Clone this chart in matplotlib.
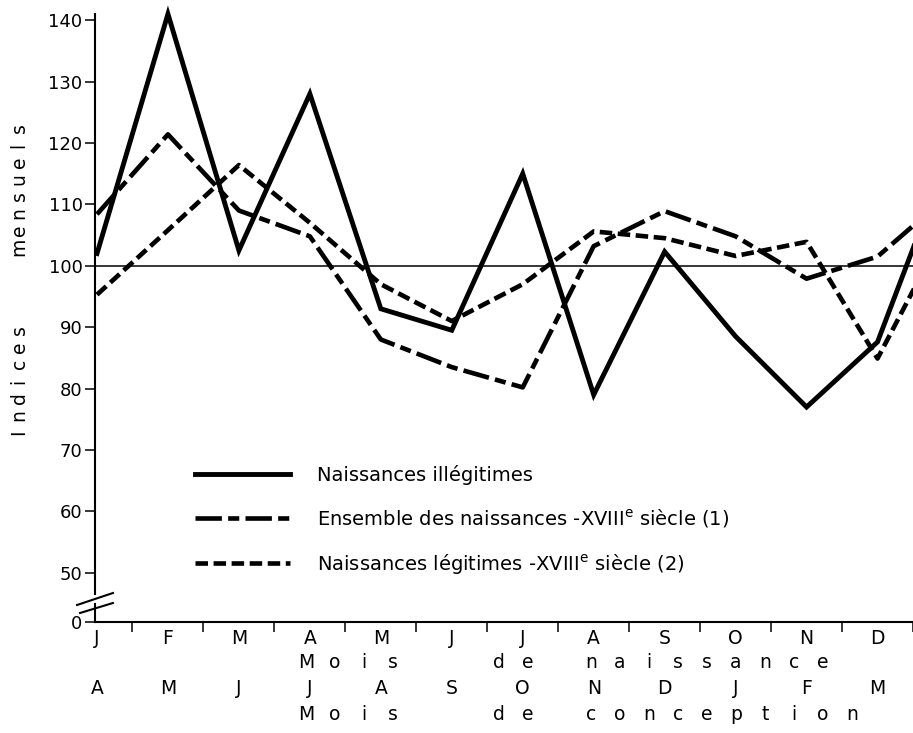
import matplotlib
matplotlib.use('Agg')
import matplotlib.pyplot as plt
import matplotlib.transforms as mtransforms
from matplotlib.lines import Line2D

plt.rcParams['font.family'] = ['DejaVu Sans']
plt.rcParams['mathtext.fontset'] = 'dejavusans'
plt.rcParams['lines.scale_dashes'] = False

# ---------------- data ----------------
birth_months = ['J', 'F', 'M', 'A', 'M', 'J', 'J', 'A', 'S', 'O', 'N', 'D']
conception_months = ['A', 'M', 'J', 'J', 'A', 'S', 'O', 'N', 'D', 'J', 'F', 'M']
# 13th value = continuation past the cropped right edge
illegitimes = [102, 141, 102.5, 128, 93, 89.5, 115, 79, 102.3, 88.5, 77, 87.6, 118]
ensemble = [108.4, 121.4, 109, 104.8, 88, 83.5, 80.2, 103.2, 108.9, 104.8, 97.9, 101.5, 111.5]
legitimes = [95.3, 105.8, 116.4, 107, 97, 91, 97, 105.6, 104.5, 101.6, 103.9, 84.9, 107]
ytick_values = [50, 60, 70, 80, 90, 100, 110, 120, 130, 140]
ytick_labels = ['50', '60', '70', '80', '90', '100', '110', '120', '130', '140']
zero_label = '0'
reference = 100
labels = ['Naissances illégitimes',
          r'Ensemble des naissances -XVIII$^{\mathrm{e}}$ siècle (1)',
          r'Naissances légitimes -XVIII$^{\mathrm{e}}$ siècle (2)']
ylabel_words = ['Indices', 'mensuels']
xlabel1_words = ['Mois', 'de', 'naissance']
xlabel2_words = ['Mois', 'de', 'conception']

FS = 13.5
W, H = 913, 733
fig = plt.figure(figsize=(W / 100, H / 100), dpi=100)
ax_left, ax_right, ax_top, ax_bottom = 95, 913, 14, 622
ax = fig.add_axes([ax_left / W, 1 - ax_bottom / H, (ax_right - ax_left) / W, (ax_bottom - ax_top) / H])

y_low, y_high = 42.0, 141.0
x0_px, step_px = 97, 71.2
ax.set_xlim((ax_left - x0_px) / step_px, (ax_right - x0_px) / step_px)
ax.set_ylim(y_low, y_high)

x = list(range(len(illegitimes)))
lw = 3.5
ax.plot(x, illegitimes, color='black', lw=lw, solid_joinstyle='miter', clip_on=False, label=labels[0])
ax.plot(x, ensemble, color='black', lw=lw * 0.95, dashes=(19, 4.5, 8, 4.5), clip_on=False, label=labels[1])
ax.plot(x, legitimes, color='black', lw=lw * 0.95, dashes=(9, 4.0), clip_on=False, label=labels[2])
ax.axhline(reference, color='black', lw=1.1, clip_on=False)

# spines
for s in ['top', 'right', 'left']:
    ax.spines[s].set_visible(False)
ax.spines['bottom'].set_linewidth(1.5)
yax_tr = mtransforms.blended_transform_factory(ax.transAxes, ax.transData)
gap_lo, gap_hi = 44.9, 46.5
ax.add_line(Line2D([0, 0], [y_low, gap_lo], transform=yax_tr, color='black', lw=1.5, clip_on=False))
ax.add_line(Line2D([0, 0], [gap_hi, y_high], transform=yax_tr, color='black', lw=1.5, clip_on=False))

# break marks
def px2x(px):
    return (px - x0_px) / step_px
def py2y(py):
    return y_low + (ax_bottom - py) * (y_high - y_low) / (ax_bottom - ax_top)
for (xa, ya, xb, yb) in [(77, 605, 113, 593), (80, 613, 113, 603)]:
    ax.add_line(Line2D([px2x(xa), px2x(xb)], [py2y(ya), py2y(yb)], color='black', lw=1.5, clip_on=False))

# y ticks
ax.set_yticks([y_low] + ytick_values)
ax.set_yticklabels([zero_label] + ytick_labels)
ax.tick_params(axis='y', direction='out', length=7, width=1.1, labelsize=13, pad=2)

# x ticks
ax.set_xticks(range(12))
ax.set_xticklabels(birth_months)
ax.tick_params(axis='x', which='major', length=0, labelsize=FS, pad=5)
ax.set_xticks([i + 0.5 for i in range(12)], minor=True)
ax.tick_params(axis='x', which='minor', direction='out', length=7, width=1.1)

xtr = mtransforms.blended_transform_factory(ax.transData, fig.transFigure)
for i, lab in enumerate(conception_months):
    ax.text(i, 1 - 688 / H, lab, transform=xtr, ha='center', va='center', fontsize=FS)

def spaced(words, starts, y_px, step):
    for w, s in zip(words, starts):
        for k, ch in enumerate(w):
            fig.text((s + k * step) / W, 1 - y_px / H, ch, ha='center', va='center', fontsize=FS)

spaced(xlabel1_words, [306, 499, 591], 662, 29)
spaced(xlabel2_words, [306, 499, 591], 715, 29)

def vspaced(words, starts, x_px, step):
    for w, s in zip(words, starts):
        for k, ch in enumerate(w):
            fig.text(x_px / W, 1 - (s - k * step) / H, ch, ha='center', va='center', rotation=90, fontsize=FS)

vspaced(ylabel_words, [432, 247], 19, 17)

# legend
leg = ax.legend(loc='upper left', bbox_to_anchor=(195 / W, 1 - 465 / H), bbox_transform=fig.transFigure,
                frameon=False, fontsize=14, handlelength=4.9, handletextpad=1.35, labelspacing=1.15,
                borderpad=0, borderaxespad=0)

fig.savefig('out.png', dpi=100)
